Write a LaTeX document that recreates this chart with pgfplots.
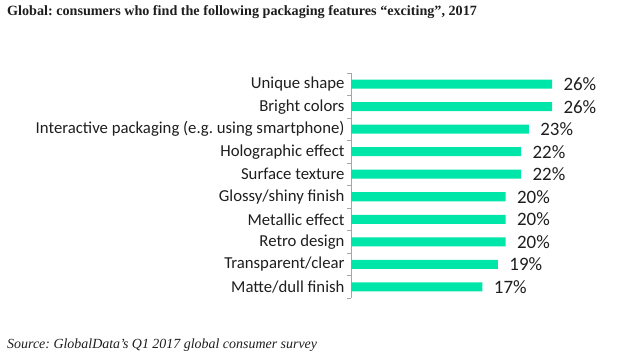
\documentclass[border=0pt]{standalone}
\usepackage{pgfplots}
\pgfplotsset{compat=1.18}
\usepackage{fontspec}
\setmainfont{Liberation Serif}
\newfontfamily\calib{Carlito}
\definecolor{barc}{HTML}{00E6A8}
\definecolor{txt}{HTML}{1E1E1E}
\definecolor{axc}{HTML}{A6A6A6}
\frenchspacing
\begin{document}
\begin{tikzpicture}[x=1bp,y=1bp]
\path[use as bounding box] (0,0) rectangle (630,359);
\node[anchor=west,inner sep=0,text=txt,font=\fontsize{14.2}{16}\selectfont\bfseries] at (7,347) {Global: consumers who find the following packaging features “exciting”, 2017};
\node[anchor=west,inner sep=0,text=txt,font=\fontsize{14}{16}\selectfont\itshape] at (7,14) {Source: GlobalData’s Q1 2017 global consumer survey};
\begin{axis}[
  at={(351bp,61bp)}, anchor=south west,
  scale only axis, width=201bp, height=225bp,
  xmin=0, xmax=26, ymin=-0.5, ymax=9.5,
  axis x line=none, axis y line*=left,
  y axis line style={draw=axc, line width=0.8pt, -},
  xbar, bar width=9bp, bar shift=0pt,
  ytick={0,...,9},
  yticklabels={Matte/dull finish,Transparent/clear,Retro design,Metallic effect,Glossy/shiny finish,Surface texture,Holographic effect,Interactive packaging (e.g. using smartphone),Bright colors,Unique shape},
  major tick length=0pt,
  yticklabel style={font=\calib\fontsize{16.8}{18}\selectfont, text=txt, xshift=-3bp},
  extra y ticks={-0.5,0.5,1.5,2.5,3.5,4.5,5.5,6.5,7.5,8.5,9.5},
  extra y tick labels={},
  extra y tick style={major tick length=4bp, tick align=outside, tick style={draw=axc, line width=0.8pt}},
  clip=false,
  /pgf/number format/assume math mode=true,
  nodes near coords={\pgfmathprintnumber{\pgfplotspointmeta}\%},
  nodes near coords style={font=\calib\fontsize{19}{21}\selectfont, text=txt, anchor=west, xshift=8bp},
  point meta=x,
]
\addplot[draw=none, fill=barc] coordinates {(17,0) (19,1) (20,2) (20,3) (20,4) (22,5) (22,6) (23,7) (26,8) (26,9)};
\end{axis}
\end{tikzpicture}
\end{document}
